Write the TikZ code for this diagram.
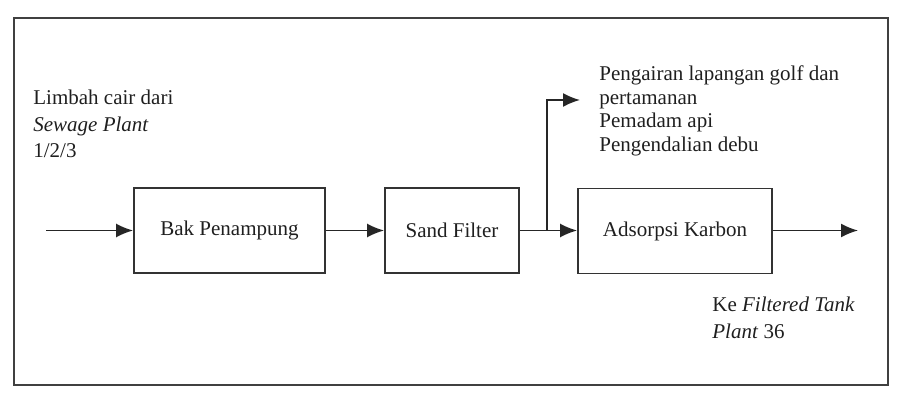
\documentclass[tikz,border=0pt]{standalone}
\usepackage{fontspec}
\setmainfont{Liberation Serif}
\usetikzlibrary{arrows.meta}
\begin{document}
\begin{tikzpicture}[x=0.5pt,y=-0.5pt,
  frame/.style={draw=black!75, line width=0.9pt},
  box/.style={draw=black!80, line width=0.9pt, minimum height=42.5pt, inner sep=0pt,
    text=black!88, font=\fontsize{10.5}{12}\selectfont},
  lbl/.style={anchor=base west, inner sep=0pt, text=black!88, font=\fontsize{10.5}{12}\selectfont},
  flow/.style={draw=black!85, line width=0.9pt, -{Latex[length=8.5pt,width=7pt]}}]
\useasboundingbox (0,0) rectangle (903,405);
\draw[frame] (14,18) rectangle (888,385);
% boxes
\node[box, minimum width=95.5pt] (bak) at (229.5,230.5) {Bak Penampung};
\node[box, minimum width=67pt] (sand) at (452,230.5) {Sand Filter};
\node[box, minimum width=97pt] (ads) at (675,231) {Adsorpsi Karbon};
% labels
\node[lbl] (l1) at (33,105) {Limbah cair dari};
\node[lbl] (l2) at (33,132) {\textit{Sewage Plant}};
\node[lbl] (l3) at (33,158) {1/2/3};
\node[lbl] (p1) at (599,81) {Pengairan lapangan golf dan};
\node[lbl] (p2) at (599,105) {pertamanan};
\node[lbl] (p3) at (599,128) {Pemadam api};
\node[lbl] (p4) at (599,152) {Pengendalian debu};
\node[lbl] (k1) at (712,312) {Ke \textit{Filtered Tank}};
\node[lbl] (k2) at (712,338) {\textit{Plant} 36};
% connectors
\coordinate (in) at (46,230.5);
\coordinate (split) at (547,230.5);
\coordinate (up) at (547,100);
\coordinate (reuse) at (580,100);
\coordinate (out) at (858,230.5);
\draw[flow] (in) -- (bak.west);
\draw[flow] (bak.east) -- (sand.west);
\draw[flow] (sand.east) -- (ads.west |- sand.east);
\draw[flow] (split) -- (up) -- (reuse);
\draw[flow] (ads.east |- out) -- (out);
\end{tikzpicture}
\end{document}
